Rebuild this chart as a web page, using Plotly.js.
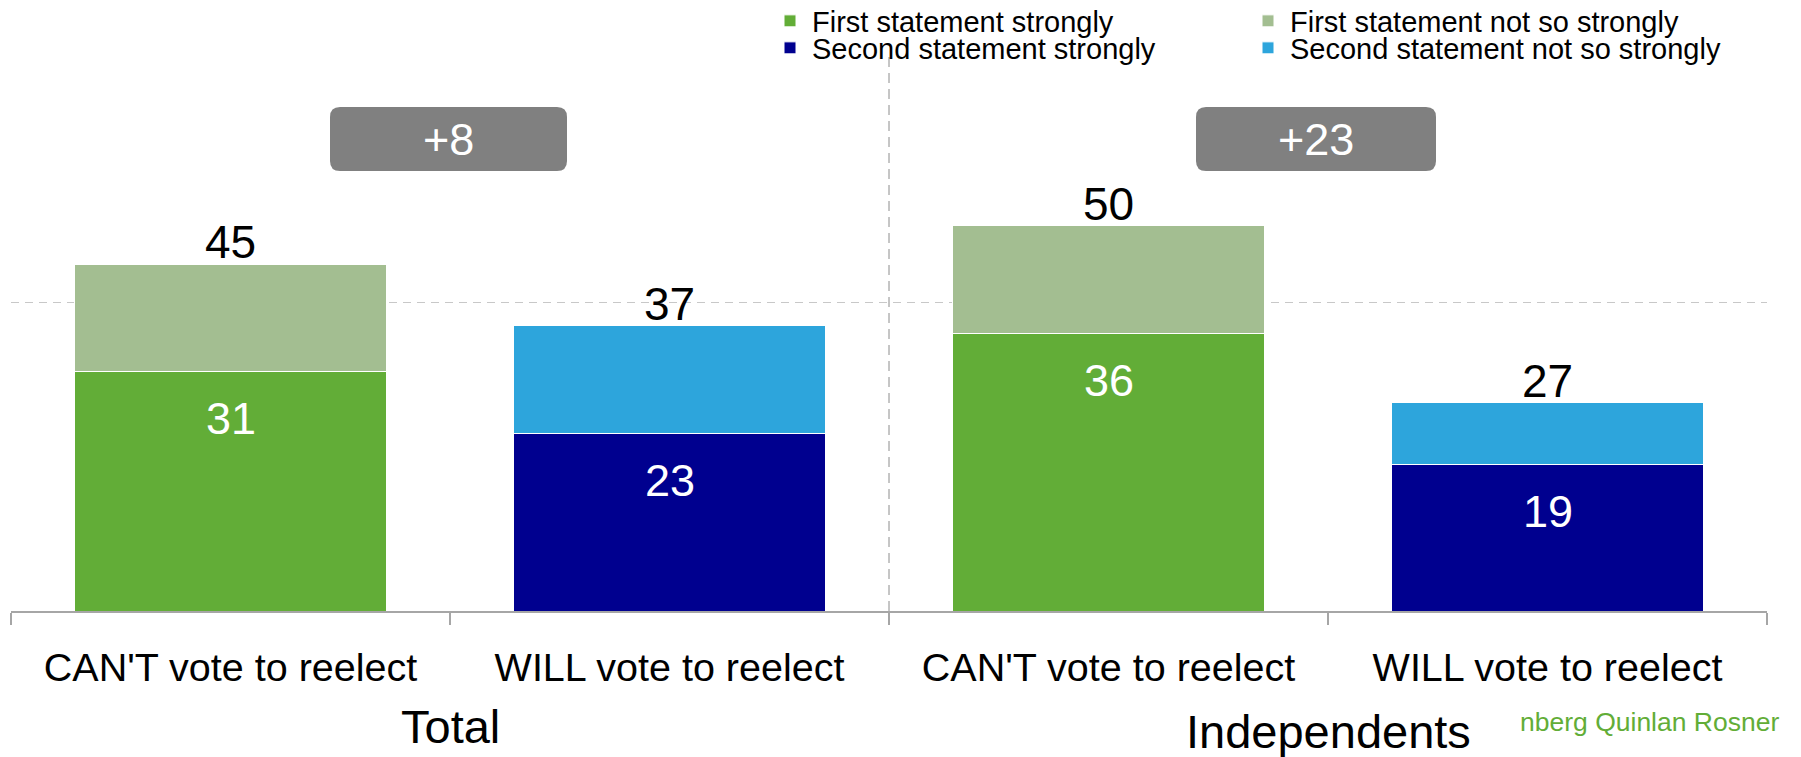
<!DOCTYPE html>
<html>
<head>
<meta charset="utf-8">
<script src="https://cdn.plot.ly/plotly-3.0.1.min.js"></script>
<style>
  html, body { margin: 0; padding: 0; background: #ffffff; }
  #chart { width: 1801px; height: 757px; }
</style>
</head>
<body>
<div id="chart"></div>
<script>
// ---------------- data ----------------
const categories = ["CAN'T vote to reelect", "WILL vote to reelect", "CAN'T vote to reelect", "WILL vote to reelect"];
const categoryIndex = [0, 1, 2, 3];
const groups = ["Total", "Independents"];
const seriesNames = ["First statement strongly", "First statement not so strongly",
                     "Second statement strongly", "Second statement not so strongly"];
const firstStrong  = [31, null, 36, null];
const firstNotSo   = [14, null, 14, null];
const secondStrong = [null, 23, null, 19];
const secondNotSo  = [null, 14, null, 8];
const sourceText = "nberg Quinlan Rosner";

// ---------------- style ----------------
const FONT = "Liberation Sans, Arial, sans-serif";
const colors = ["#62AD37", "#A3BE91", "#00008F", "#2DA5DC"];

// geometry of the plot area (pixels)
const W = 1801, H = 757;
const L = 11, R = 34, T = 57, B = 146;
const PW = W - L - R, PH = H - T - B;
const px2x = p => (p - L) / PW;
const px2y = p => (H - B - p) / PH;

const seriesData = [firstStrong, firstNotSo, secondStrong, secondNotSo];
const legendIds = ["legend", "legend2", "legend3", "legend4"];

const traces = seriesData.map((vals, k) => ({
  type: "bar",
  name: seriesNames[k],
  x: categoryIndex,
  y: vals,
  width: 0.71,
  marker: { color: colors[k], line: { color: "#ffffff", width: 1 } },
  hoverinfo: "skip",
  legend: legendIds[k],
  showlegend: true
}));

// totals and labels
const strong = categoryIndex.map(i => firstStrong[i] != null ? firstStrong[i] : secondStrong[i]);
const notSo  = categoryIndex.map(i => firstNotSo[i] != null ? firstNotSo[i] : secondNotSo[i]);
const totals = categoryIndex.map(i => strong[i] + notSo[i]);

const annotations = [];
categoryIndex.forEach(i => {
  annotations.push({
    x: i, y: strong[i], xref: "x", yref: "y", text: String(strong[i]),
    showarrow: false, yanchor: "middle", yshift: -47,
    font: { family: FONT, size: 45, color: "#ffffff" }
  });
  annotations.push({
    x: i, y: totals[i], xref: "x", yref: "y", text: String(totals[i]),
    showarrow: false, yanchor: "middle", yshift: 22,
    font: { family: FONT, size: 46, color: "#000000" }
  });
});

// group labels
annotations.push({
  x: 0.5, xref: "x", y: px2y(726), yref: "paper", text: groups[0],
  showarrow: false, yanchor: "middle",
  font: { family: FONT, size: 47, color: "#000000" }
});
annotations.push({
  x: 2.5, xref: "x", y: px2y(731), yref: "paper", text: groups[1],
  showarrow: false, yanchor: "middle",
  font: { family: FONT, size: 47, color: "#000000" }
});

// difference boxes
const diffs = [totals[0] - totals[1], totals[2] - totals[3]];
const boxes = [
  { x0: 330, x1: 567, y0: 107, y1: 171 },
  { x0: 1196, x1: 1436, y0: 107, y1: 171 }
];
function roundRectPath(b, r) {
  const X = px2x, Y = px2y;
  return [
    "M", X(b.x0 + r), Y(b.y0),
    "L", X(b.x1 - r), Y(b.y0),
    "Q", X(b.x1), Y(b.y0), X(b.x1), Y(b.y0 + r),
    "L", X(b.x1), Y(b.y1 - r),
    "Q", X(b.x1), Y(b.y1), X(b.x1 - r), Y(b.y1),
    "L", X(b.x0 + r), Y(b.y1),
    "Q", X(b.x0), Y(b.y1), X(b.x0), Y(b.y1 - r),
    "L", X(b.x0), Y(b.y0 + r),
    "Q", X(b.x0), Y(b.y0), X(b.x0 + r), Y(b.y0),
    "Z"
  ].join(" ");
}
const shapes = boxes.map(b => ({
  type: "path", xref: "paper", yref: "paper", path: roundRectPath(b, 10),
  fillcolor: "#808080", line: { width: 0 }, layer: "above"
}));
boxes.forEach((b, k) => {
  annotations.push({
    x: px2x((b.x0 + b.x1) / 2), xref: "paper",
    y: px2y((b.y0 + b.y1) / 2), yref: "paper",
    text: "+" + diffs[k], showarrow: false, xanchor: "center", yanchor: "middle",
    font: { family: FONT, size: 45, color: "#ffffff" }
  });
});

// vertical group divider
shapes.push({
  type: "line", xref: "x", yref: "paper", x0: 1.5, x1: 1.5, y0: 0, y1: 1,
  line: { color: "#8c8c8c", width: 1, dash: "10px,6px" }, layer: "below"
});

// source text
annotations.push({
  x: px2x(1781), xref: "paper", y: px2y(722), yref: "paper", text: sourceText,
  showarrow: false, xanchor: "right", yanchor: "middle",
  font: { family: FONT, size: 26.5, color: "#62AD37" }
});

// legends (four single-item legends arranged 2x2)
const legendPos = [
  { sx: 790, sy: 21 }, { sx: 1268, sy: 21 },
  { sx: 790, sy: 48 }, { sx: 1268, sy: 48 }
];
const legendBase = {
  xref: "paper", yref: "paper", xanchor: "left", yanchor: "middle",
  bgcolor: "rgba(0,0,0,0)", borderwidth: 0, itemwidth: 34,
  font: { family: FONT, size: 29, color: "#000000" }
};

const layout = {
  width: W, height: H,
  margin: { l: L, r: R, t: T, b: B, pad: 0, autoexpand: false },
  paper_bgcolor: "#ffffff", plot_bgcolor: "#ffffff",
  barmode: "stack",
  font: { family: FONT, color: "#000000" },
  xaxis: {
    range: [-0.5, 3.5],
    tickmode: "array", tickvals: categoryIndex, ticktext: categories,
    ticks: "", showgrid: false, zeroline: false,
    showline: true, linecolor: "#A6A6A6", linewidth: 1.5,
    tickfont: { family: FONT, size: 39.5, color: "#000000" },
    ticklabelstandoff: 21,
    minor: { tickmode: "array", tickvals: [-0.5, 0.5, 1.5, 2.5, 3.5], ticks: "outside",
             ticklen: 12, tickwidth: 1.5, tickcolor: "#A6A6A6", showgrid: false },
    fixedrange: true
  },
  yaxis: {
    range: [0, (H - B - T) / 7.71],
    tickmode: "array", tickvals: [40], showticklabels: false,
    showgrid: true, gridcolor: "#C8C8C8", gridwidth: 1, griddash: "8px,6px",
    zeroline: false, showline: false, ticks: "", fixedrange: true
  },
  shapes: shapes,
  annotations: annotations,
  showlegend: true
};
legendIds.forEach((id, k) => {
  layout[id] = Object.assign({}, legendBase, {
    x: px2x(legendPos[k].sx - 22),
    y: px2y(legendPos[k].sy)
  });
});

Plotly.newPlot("chart", traces, layout, { displayModeBar: false, staticPlot: true });
</script>
</body>
</html>
